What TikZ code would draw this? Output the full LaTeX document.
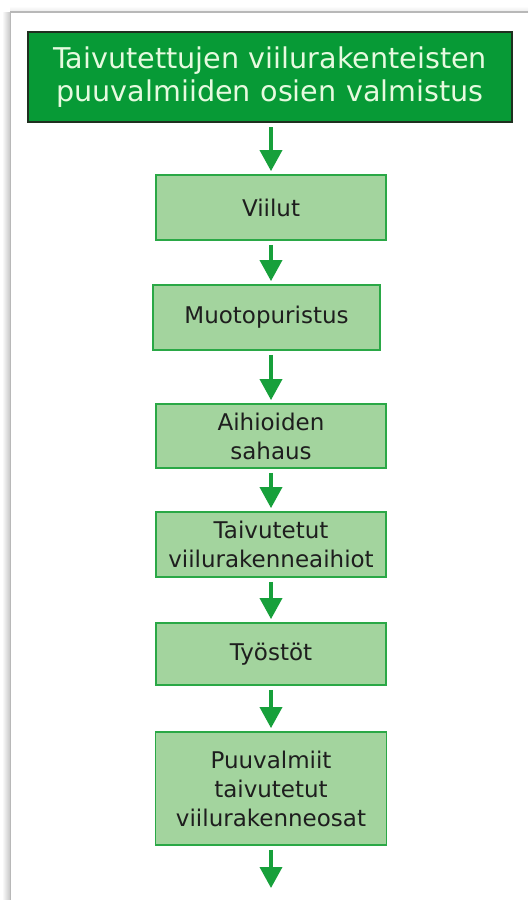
\documentclass[tikz,border=0pt]{standalone}
\usepackage{fontspec}
\setmainfont{DejaVu Sans}
\usetikzlibrary{arrows.meta}
\definecolor{titlefill}{HTML}{079A36}
\definecolor{titletext}{HTML}{E6FADF}
\definecolor{titleborder}{HTML}{1F2F1F}
\definecolor{boxfill}{HTML}{A3D49E}
\definecolor{boxborder}{HTML}{2AA846}
\definecolor{arrowgreen}{HTML}{17A03B}
\definecolor{boxtext}{HTML}{1E1E1E}
\tikzset{
  titlebox/.style={draw=titleborder, line width=2pt, fill=titlefill, text=titletext,
    minimum width=484pt, minimum height=90pt, align=center, text width=478pt,
    font=\fontsize{28.6pt}{33pt}\selectfont, inner sep=0pt},
  stepbox/.style={draw=boxborder, line width=1.8pt, fill=boxfill, text=boxtext,
    align=center, text width=224pt, inner sep=0pt,
    font=\fontsize{23pt}{29pt}\selectfont},
  flowarrow/.style={draw=arrowgreen, line width=3.6pt,
    -{Triangle[width=22pt,length=21pt]}, shorten <=4pt, shorten >=3pt}
}
\begin{document}
\begin{tikzpicture}[x=1pt,y=-1pt]
\useasboundingbox (0,0) rectangle (528,900);
\fill[white] (0,0) rectangle (528,900);
% page frame with shadow
\shade[left color=white, right color=black!22] (2,12) rectangle (10,900);
\shade[top color=white, bottom color=black!8] (10,6) rectangle (528,12);
\draw[black!28, line width=1.2pt] (10.5,900) -- (10.5,12) -- (528,12);
% nodes
\node[titlebox] (title) at (270,77) {Taivutettujen viilurakenteisten\\puuvalmiiden osien valmistus};
\node[stepbox, minimum width=230pt, minimum height=65pt] (viilut) at (271,207.5) {Viilut};
\node[stepbox, minimum width=227pt, minimum height=65pt] (muoto) at (266.5,317.5) {Muotopuristus};
\node[stepbox, minimum width=230pt, minimum height=64pt] (aihio) at (271,436) {Aihioiden\\sahaus};
\node[stepbox, minimum width=230pt, minimum height=65pt] (taiv) at (271,544.5) {Taivutetut\\viilurakenneaihiot};
\node[stepbox, minimum width=230pt, minimum height=62pt] (tyosto) at (271,654) {Työstöt};
\node[stepbox, minimum width=231pt, minimum height=113pt] (puu) at (271,788.5) {Puuvalmiit\\taivutetut\\viilurakenneosat};
\coordinate (end) at (271,891);
% arrows
\draw[flowarrow] (title.south -| viilut.north) -- (viilut.north);
\draw[flowarrow] (viilut.south) -- (viilut.south |- muoto.north);
\draw[flowarrow] (aihio.north |- muoto.south) -- (aihio.north);
\draw[flowarrow] (aihio.south) -- (taiv.north);
\draw[flowarrow] (taiv.south) -- (tyosto.north);
\draw[flowarrow] (tyosto.south) -- (puu.north);
\draw[flowarrow] (puu.south) -- (end);
\end{tikzpicture}
\end{document}
